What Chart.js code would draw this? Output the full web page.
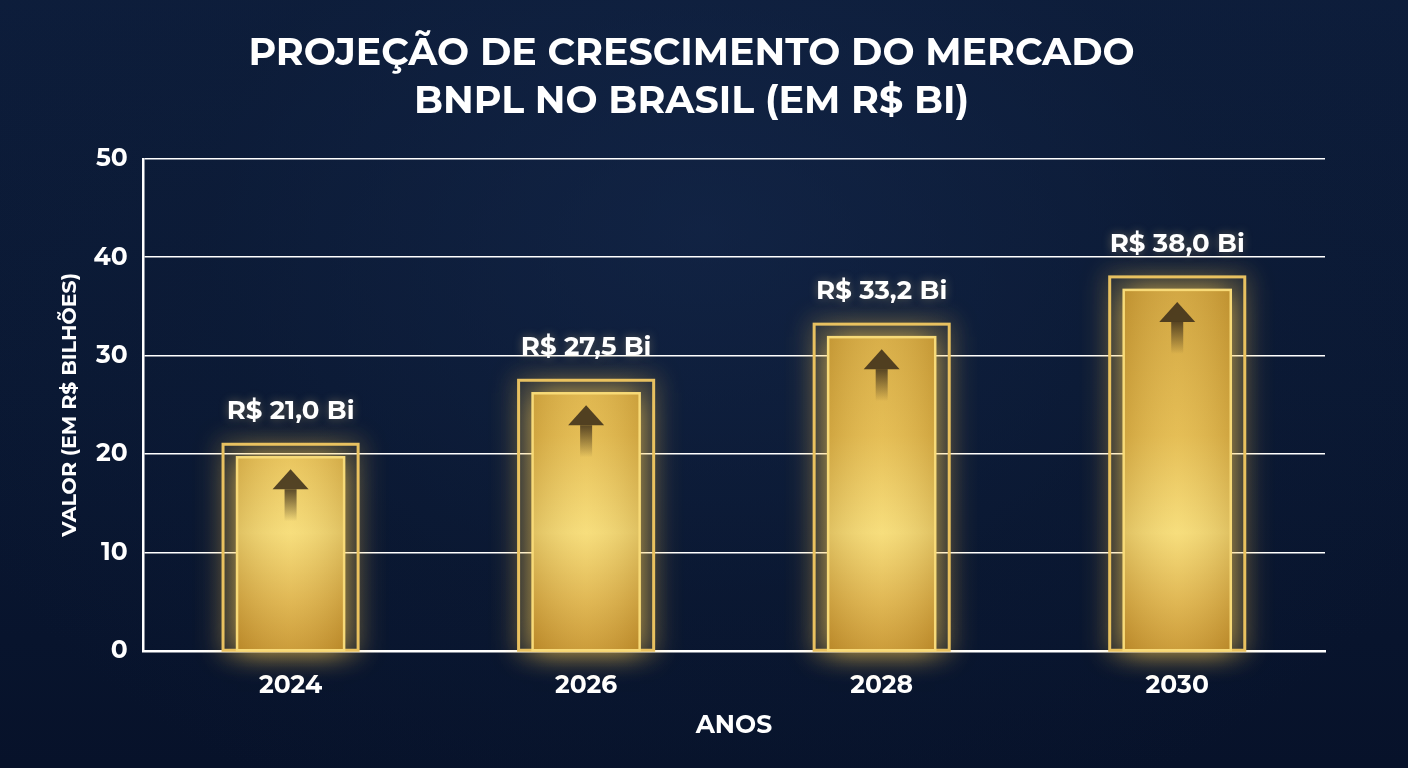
<!DOCTYPE html>
<html lang="pt-BR">
<head>
<meta charset="utf-8">
<title>Projeção BNPL Brasil</title>
<script src="https://cdn.jsdelivr.net/npm/chart.js@4.4.1/dist/chart.umd.min.js"></script>
<style>
  html, body { margin: 0; padding: 0; }
  body {
    width: 1408px; height: 768px; overflow: hidden;
    background:
      radial-gradient(ellipse at 50% 30%, rgba(22,42,78,0.55) 0%, rgba(14,30,58,0.3) 50%, rgba(6,14,30,0) 85%),
      linear-gradient(180deg, #0d1d3b 0%, #0a1833 50%, #07122a 100%);
  }
  #wrap { position: relative; width: 1408px; height: 768px; }
</style>
</head>
<body>
<div id="wrap"><canvas id="grafico" width="1408" height="768"></canvas></div>
<script>
const anos = ["2024", "2026", "2028", "2030"];
const valores = [21.0, 27.5, 33.2, 38.0];
const rotulos = ["R$ 21,0 Bi", "R$ 27,5 Bi", "R$ 33,2 Bi", "R$ 38,0 Bi"];
const tituloLinhas = ["PROJEÇÃO DE CRESCIMENTO DO MERCADO", "BNPL NO BRASIL (EM R$ BI)"];

const fonte = "Montserrat, 'DejaVu Sans', 'Open Sans', sans-serif";

// desenha as barras douradas (contorno + barra interna + seta + rótulo)
const barrasDouradas = {
  id: "barrasDouradas",
  afterDatasetsDraw(chart) {
    const ctx = chart.ctx;
    const area = chart.chartArea;
    const meta = chart.getDatasetMeta(0);
    meta.data.forEach((bar, i) => {
      const left = bar.x - bar.width / 2;
      const right = bar.x + bar.width / 2;
      const top = bar.y;
      const base = bar.base;
      const inset = 14;
      const iTop = top + 13;
      const iLeft = left + inset;
      const iRight = right - inset;

      // brilho + contorno externo
      ctx.save();
      ctx.shadowColor = "rgba(255, 200, 70, 0.85)";
      ctx.shadowBlur = 24;
      ctx.strokeStyle = "#e6c062";
      ctx.lineWidth = 3;
      ctx.strokeRect(left, top, right - left, base - top);
      ctx.restore();

      // barra interna (gradiente fixo na área do gráfico)
      ctx.save();
      ctx.shadowColor = "rgba(255, 205, 80, 0.9)";
      ctx.shadowBlur = 28;
      const g = ctx.createLinearGradient(0, area.top + 100, 0, base);
      g.addColorStop(0, "#c99a34");
      g.addColorStop(0.45, "#e2b84c");
      g.addColorStop(0.7, "#f6dc78");
      g.addColorStop(0.88, "#dcb04a");
      g.addColorStop(1, "#c6932e");
      ctx.fillStyle = g;
      ctx.fillRect(iLeft, iTop, iRight - iLeft, base - iTop);
      ctx.restore();

      // sombreamento lateral
      ctx.save();
      const gh = ctx.createLinearGradient(iLeft, 0, iRight, 0);
      gh.addColorStop(0, "rgba(140, 95, 20, 0.22)");
      gh.addColorStop(0.5, "rgba(255, 240, 170, 0.1)");
      gh.addColorStop(1, "rgba(140, 95, 20, 0.22)");
      ctx.fillStyle = gh;
      ctx.fillRect(iLeft, iTop, iRight - iLeft, base - iTop);
      ctx.strokeStyle = "#f7da78";
      ctx.lineWidth = 2.5;
      ctx.strokeRect(iLeft, iTop, iRight - iLeft, base - iTop);
      ctx.restore();

      // seta
      ctx.save();
      const ax = bar.x;
      const ay = iTop + 12;
      ctx.fillStyle = "rgba(55, 42, 25, 0.85)";
      ctx.beginPath();
      ctx.moveTo(ax, ay);
      ctx.lineTo(ax + 18, ay + 20);
      ctx.lineTo(ax - 18, ay + 20);
      ctx.closePath();
      ctx.fill();
      const gs = ctx.createLinearGradient(0, ay + 20, 0, ay + 52);
      gs.addColorStop(0, "rgba(55, 42, 25, 0.8)");
      gs.addColorStop(1, "rgba(55, 42, 25, 0)");
      ctx.fillStyle = gs;
      ctx.fillRect(ax - 6, ay + 20, 12, 32);
      ctx.restore();

      // rótulo
      ctx.save();
      ctx.font = "bold 26px " + fonte;
      ctx.fillStyle = "#ffffff";
      ctx.textAlign = "center";
      ctx.textBaseline = "middle";
      ctx.shadowColor = "rgba(255, 220, 140, 0.35)";
      ctx.shadowBlur = 10;
      ctx.fillText(rotulos[i], bar.x, top - 33);
      ctx.restore();
    });
  }
};

new Chart(document.getElementById("grafico").getContext("2d"), {
  type: "bar",
  data: {
    labels: anos,
    datasets: [{
      data: valores,
      backgroundColor: "rgba(0,0,0,0)",
      borderWidth: 0,
      categoryPercentage: 1,
      barPercentage: 0.457
    }]
  },
  options: {
    responsive: false,
    animation: false,
    layout: { padding: { left: 58, right: 83, top: 10, bottom: 27 } },
    plugins: {
      legend: { display: false },
      tooltip: { enabled: false },
      title: {
        display: true,
        text: tituloLinhas,
        color: "#ffffff",
        font: { family: fonte, size: 38, weight: "bold", lineHeight: 1.26 },
        padding: { top: 20, bottom: 33 }
      }
    },
    scales: {
      y: {
        min: 0,
        max: 50,
        ticks: {
          stepSize: 10,
          color: "#ffffff",
          padding: 15,
          font: { family: fonte, size: 25, weight: "bold" }
        },
        grid: { color: "#ffffff", lineWidth: 1.5, drawTicks: false },
        border: { color: "#ffffff", width: 2.5 },
        title: {
          display: true,
          text: "VALOR (EM R$ BILHÕES)",
          color: "#ffffff",
          font: { family: fonte, size: 20.5, weight: "bold" },
          padding: { top: 0, bottom: -4 }
        }
      },
      x: {
        ticks: {
          color: "#ffffff",
          padding: 20,
          font: { family: fonte, size: 25, weight: "bold" }
        },
        grid: { display: false, drawTicks: false },
        border: { color: "#ffffff", width: 2.5 },
        title: {
          display: true,
          text: "ANOS",
          color: "#ffffff",
          font: { family: fonte, size: 25, weight: "bold" },
          padding: { top: -10, bottom: 0 }
        }
      }
    }
  },
  plugins: [barrasDouradas]
});
</script>
</body>
</html>
